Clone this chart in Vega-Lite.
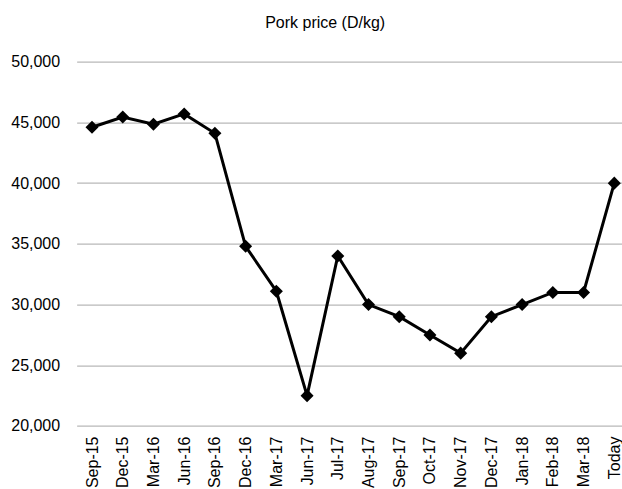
{
  "$schema": "https://vega.github.io/schema/vega-lite/v6.json",
  "autosize": {"type": "none"},
  "padding": {"left": 76.65, "top": 61.7, "right": 0, "bottom": 63},
  "width": 553,
  "height": 364.3,
  "background": "white",
  "config": {
    "font": "Liberation Sans",
    "view": {"stroke": null}
  },
  "title": {
    "text": "Pork price (D/kg)",
    "font": "Liberation Sans",
    "fontSize": 16,
    "fontWeight": "normal",
    "color": "#000000",
    "anchor": "middle",
    "frame": "group",
    "baseline": "alphabetic",
    "offset": 10,
    "dx": -28
  },
  "data": {
    "values": [
      {"period": "Sep-15", "price": 44600},
      {"period": "Dec-15", "price": 45450},
      {"period": "Mar-16", "price": 44850},
      {"period": "Jun-16", "price": 45700},
      {"period": "Sep-16", "price": 44100},
      {"period": "Dec-16", "price": 34800},
      {"period": "Mar-17", "price": 31100},
      {"period": "Jun-17", "price": 22500},
      {"period": "Jul-17", "price": 34000},
      {"period": "Aug-17", "price": 30000},
      {"period": "Sep-17", "price": 29000},
      {"period": "Oct-17", "price": 27500},
      {"period": "Nov-17", "price": 26000},
      {"period": "Dec-17", "price": 29000},
      {"period": "Jan-18", "price": 30000},
      {"period": "Feb-18", "price": 31000},
      {"period": "Mar-18", "price": 31000},
      {"period": "Today", "price": 40000}
    ]
  },
  "encoding": {
    "x": {
      "field": "period",
      "type": "ordinal",
      "sort": null,
      "scale": {"type": "point", "padding": 0.5},
      "axis": {
        "title": null,
        "labelAngle": -90,
        "labelFontSize": 16,
        "labelColor": "#000000",
        "labelPadding": 10,
        "ticks": false,
        "domain": false,
        "grid": false,
        "labelOverlap": false
      }
    },
    "y": {
      "field": "price",
      "type": "quantitative",
      "scale": {"domain": [20000, 50000], "nice": false, "zero": false},
      "axis": {
        "title": null,
        "values": [20000, 25000, 30000, 35000, 40000, 45000, 50000],
        "format": ",d",
        "labelFontSize": 16,
        "labelColor": "#000000",
        "labelPadding": 17,
        "ticks": false,
        "domain": false,
        "grid": true,
        "gridColor": "#b8b8b8",
        "gridWidth": 1.3
      }
    }
  },
  "layer": [
    {
      "mark": {"type": "line", "color": "#000000", "strokeWidth": 3}
    },
    {
      "mark": {"type": "point", "shape": "diamond", "filled": true, "color": "#000000", "size": 170, "opacity": 1}
    }
  ]
}
